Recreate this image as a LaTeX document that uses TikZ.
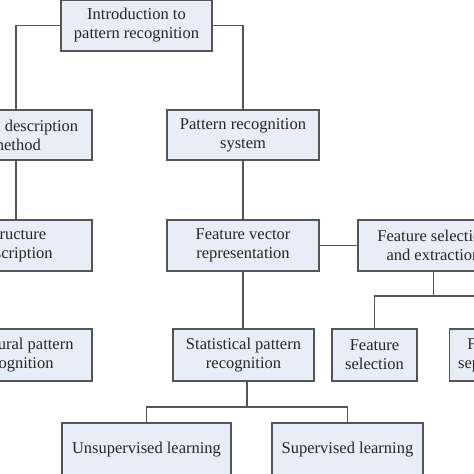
\documentclass[tikz,border=0pt]{standalone}
\usepackage{fontspec}
\setmainfont{Liberation Serif}
\definecolor{boxfill}{HTML}{E8EEF7}
\definecolor{boxline}{HTML}{555555}
\definecolor{txt}{HTML}{262626}
\begin{document}
\begin{tikzpicture}[x=1pt,y=-1pt,
 box/.style={draw=boxline, line width=1.3pt, fill=boxfill, text=txt, align=center, inner sep=0pt, font=\fontsize{16.5}{19}\selectfont},
 conn/.style={draw=boxline, line width=1.3pt}]
\useasboundingbox (0,0) rectangle (474,474);
\clip (0,0) rectangle (474,474);
\node[box, minimum width=151pt, minimum height=51pt] (intro) at (136.5,25.5) {Introduction to\\pattern recognition};
\node[box, minimum width=152pt, minimum height=50pt] (desc) at (16,135) {Pattern description\\method};
\node[box, minimum width=152pt, minimum height=51pt] (struct) at (16,245.5) {Structure\\description};
\node[box, minimum width=152pt, minimum height=52pt] (structural) at (16,355) {Structural pattern\\recognition};
\node[box, minimum width=152pt, minimum height=50pt] (prs) at (243,135) {Pattern recognition\\system};
\node[box, minimum width=152pt, minimum height=51pt] (fvr) at (243,245.5) {Feature vector\\representation};
\node[box, minimum width=151pt, minimum height=51pt] (fse) at (433.5,245.5) {Feature selection\\and extraction};
\node[box, minimum width=141pt, minimum height=52pt] (spr) at (243.5,355) {Statistical pattern\\recognition};
\node[box, minimum width=85pt, minimum height=52pt] (fs) at (374.5,355) {Feature\\selection};
\node[box, minimum width=85pt, minimum height=52pt] (fx) at (492,355) {Feature\\separation};
\node[box, minimum width=169pt, minimum height=53pt] (unsup) at (146.5,449.5) {Unsupervised learning};
\node[box, minimum width=151pt, minimum height=53pt] (sup) at (347.5,449.5) {Supervised learning};
\coordinate (j1) at (433.5,296);
\coordinate (j2) at (247,407);
\draw[conn] (intro.west) -| (desc.north);
\draw[conn] (intro.east) -| (prs.north);
\draw[conn] (desc.south) -- (struct.north);
\draw[conn] (prs.south) -- (fvr.north);
\draw[conn] (fvr.east) -- (fse.west);
\draw[conn] (fvr.south) -- (fvr.south |- spr.north);
\draw[conn] (fse.south) -- (j1);
\draw[conn] (fs.north) |- (j1) -| (fx.north);
\draw[conn] (j2 |- spr.south) -- (j2);
\draw[conn] (unsup.north) |- (j2) -| (sup.north);
\end{tikzpicture}
\end{document}
